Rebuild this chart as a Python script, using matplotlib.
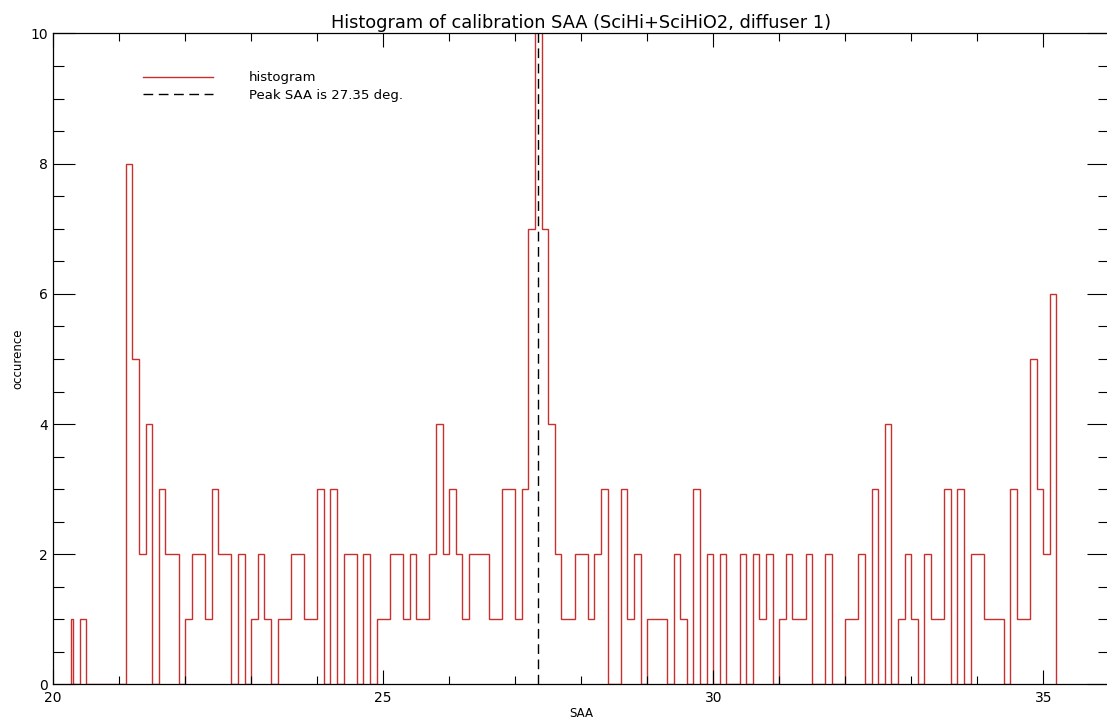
import numpy as np
import matplotlib
matplotlib.use("Agg")
import matplotlib.pyplot as plt
from matplotlib.ticker import MultipleLocator

# histogram of calibration SAA, 0.1 deg bins starting at 20.3
bin_width = 0.1
saa_start = 20.3
first_edge = 20.27   # half-width first bin (IDL psym=10 style)
first_count = 1
counts = [
    0, 1, 0, 0, 0, 0, 0, 0, 8, 5,      # 20.3 - 21.2
    2, 4, 0, 3, 2, 2, 0, 1, 2, 2,      # 21.3 - 22.2
    1, 3, 2, 2, 0, 2, 0, 1, 2, 1,      # 22.3 - 23.2
    0, 1, 1, 2, 2, 1, 1, 3, 0, 3,      # 23.3 - 24.2
    0, 2, 2, 0, 2, 0, 1, 1, 2, 2,      # 24.3 - 25.2
    1, 2, 1, 1, 2, 4, 2, 3, 2, 1,      # 25.3 - 26.2
    2, 2, 2, 1, 1, 3, 3, 1, 3, 7,      # 26.3 - 27.2
    11, 7, 4, 2, 1, 1, 2, 2, 1, 2,     # 27.3 - 28.2
    3, 0, 0, 3, 1, 2, 0, 1, 1, 1,      # 28.3 - 29.2
    0, 2, 1, 0, 3, 0, 2, 0, 2, 0,      # 29.3 - 30.2
    0, 2, 0, 2, 1, 2, 0, 1, 2, 1,      # 30.3 - 31.2
    1, 2, 0, 0, 2, 0, 0, 1, 1, 2,      # 31.3 - 32.2
    0, 3, 0, 4, 0, 1, 2, 1, 0, 2,      # 32.3 - 33.2
    1, 1, 3, 0, 3, 0, 2, 2, 1, 1,      # 33.3 - 34.2
    1, 0, 3, 1, 1, 5, 3, 2, 6,         # 34.3 - 35.1
]
peak_saa = 27.35

edges = np.concatenate([[first_edge],
                        saa_start + bin_width * np.arange(len(counts) + 1)])
values = np.concatenate([[first_count], counts])

fig = plt.figure(figsize=(11.07, 7.27), dpi=100)
ax = fig.add_axes([0.0481, 0.0585, 0.9539, 0.8955])

ax.stairs(values, edges, color="#c8302e", lw=1.0, label="histogram")
ax.plot([peak_saa, peak_saa], [0, 10], color="black", lw=1.0,
        linestyle=(0, (7, 4)), label="Peak SAA is %.2f deg." % peak_saa)

ax.set_xlim(20, 36)
ax.set_ylim(0, 10)
ax.xaxis.set_major_locator(MultipleLocator(5))
ax.xaxis.set_minor_locator(MultipleLocator(1))
ax.yaxis.set_major_locator(MultipleLocator(2))
ax.yaxis.set_minor_locator(MultipleLocator(0.5))

ax.tick_params(axis="x", which="major", direction="in", length=10, width=0.8,
               top=True, labelsize=10, pad=5)
ax.tick_params(axis="x", which="minor", direction="in", length=5.5, width=0.8,
               top=True)
ax.tick_params(axis="y", which="major", direction="in", length=16, width=0.8,
               right=True, labelsize=10, pad=4)
ax.tick_params(axis="y", which="minor", direction="in", length=8, width=0.8,
               right=True)
for s in ax.spines.values():
    s.set_linewidth(0.9)

ax.set_title("Histogram of calibration SAA (SciHi+SciHiO2, diffuser 1)",
             fontsize=12.8, pad=4)
ax.set_xlabel("SAA", fontsize=8.5, labelpad=1)
ax.set_ylabel("occurence", fontsize=8.5, labelpad=4)

ax.legend(loc="upper left", bbox_to_anchor=(0.085, 0.942), frameon=False,
          fontsize=9.5, handlelength=5.3, handletextpad=2.7, labelspacing=0.35,
          borderpad=0, borderaxespad=0)

fig.savefig("out.png", dpi=100)
